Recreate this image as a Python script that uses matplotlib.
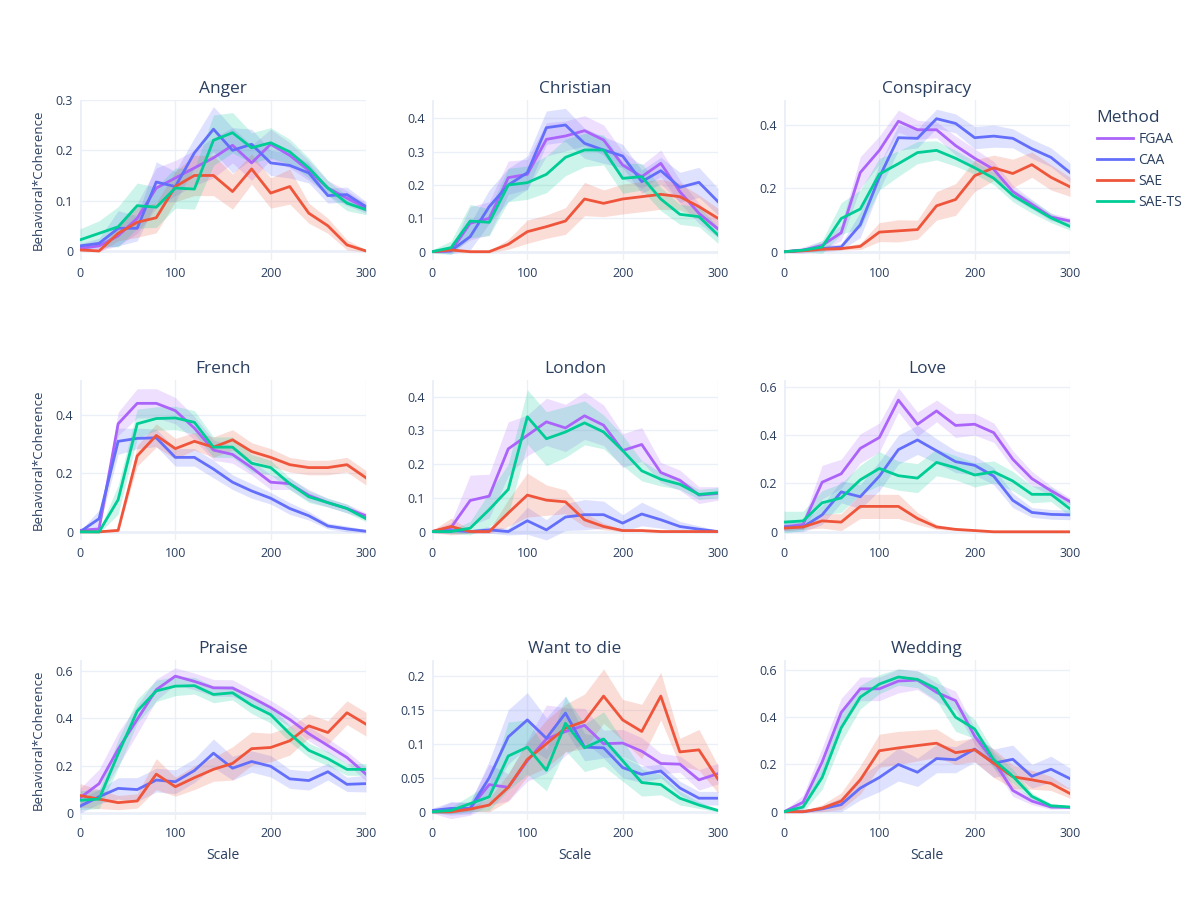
import matplotlib
matplotlib.use("Agg")
import matplotlib.pyplot as plt
from matplotlib.lines import Line2D
from matplotlib.ticker import FuncFormatter

plt.rcParams['font.family'] = ['Open Sans', 'DejaVu Sans']

scale = [0, 20, 40, 60, 80, 100, 120, 140, 160, 180, 200, 220, 240, 260, 280, 300]
methods = ["FGAA", "CAA", "SAE", "SAE-TS"]
colors = {"FGAA": "#AB63FA", "CAA": "#636EFA", "SAE": "#EF553B", "SAE-TS": "#00CC96"}

anger_mean = {
    "FGAA": [0.005, 0.01, 0.03, 0.065, 0.125, 0.145, 0.165, 0.185, 0.21, 0.175, 0.212, 0.19, 0.16, 0.125, 0.105, 0.085],
    "CAA": [0.01, 0.015, 0.045, 0.045, 0.137, 0.128, 0.195, 0.242, 0.2, 0.212, 0.175, 0.17, 0.155, 0.11, 0.112, 0.088],
    "SAE": [0.002, 0.0, 0.035, 0.057, 0.066, 0.128, 0.15, 0.15, 0.118, 0.163, 0.115, 0.128, 0.075, 0.05, 0.012, 0.0],
    "SAE-TS": [0.022, 0.035, 0.048, 0.09, 0.087, 0.125, 0.123, 0.22, 0.235, 0.205, 0.215, 0.197, 0.165, 0.125, 0.095, 0.082],
}
anger_err = {
    "FGAA": [0.005, 0.01, 0.02, 0.03, 0.04, 0.035, 0.035, 0.04, 0.035, 0.035, 0.03, 0.025, 0.02, 0.015, 0.015, 0.01],
    "CAA": [0.005, 0.01, 0.035, 0.025, 0.04, 0.03, 0.03, 0.045, 0.045, 0.03, 0.025, 0.025, 0.02, 0.015, 0.015, 0.01],
    "SAE": [0.002, 0.002, 0.015, 0.03, 0.03, 0.03, 0.04, 0.04, 0.035, 0.03, 0.03, 0.035, 0.02, 0.015, 0.01, 0.002],
    "SAE-TS": [0.022, 0.025, 0.04, 0.045, 0.04, 0.04, 0.04, 0.05, 0.04, 0.03, 0.03, 0.025, 0.02, 0.015, 0.015, 0.01],
}

christian_mean = {
    "FGAA": [0.0, 0.002, 0.085, 0.1, 0.222, 0.232, 0.337, 0.347, 0.363, 0.335, 0.26, 0.225, 0.265, 0.18, 0.115, 0.068],
    "CAA": [0.0, 0.003, 0.045, 0.135, 0.2, 0.237, 0.372, 0.38, 0.325, 0.305, 0.287, 0.21, 0.243, 0.193, 0.208, 0.15],
    "SAE": [0.0, 0.005, 0.0, 0.0, 0.022, 0.06, 0.075, 0.092, 0.158, 0.145, 0.158, 0.165, 0.172, 0.165, 0.135, 0.1],
    "SAE-TS": [0.0, 0.012, 0.092, 0.088, 0.2, 0.207, 0.232, 0.283, 0.305, 0.305, 0.22, 0.225, 0.158, 0.112, 0.105, 0.05],
}
christian_err = {
    "FGAA": [0.002, 0.005, 0.05, 0.05, 0.05, 0.045, 0.05, 0.045, 0.045, 0.045, 0.04, 0.035, 0.04, 0.035, 0.03, 0.025],
    "CAA": [0.002, 0.01, 0.04, 0.05, 0.05, 0.05, 0.05, 0.05, 0.045, 0.04, 0.035, 0.035, 0.04, 0.045, 0.045, 0.04],
    "SAE": [0.002, 0.005, 0.003, 0.003, 0.015, 0.035, 0.035, 0.04, 0.05, 0.04, 0.045, 0.045, 0.045, 0.04, 0.035, 0.03],
    "SAE-TS": [0.005, 0.02, 0.05, 0.04, 0.05, 0.05, 0.055, 0.055, 0.05, 0.045, 0.045, 0.04, 0.035, 0.03, 0.03, 0.025],
}

conspiracy_mean = {
    "FGAA": [0.0, 0.005, 0.02, 0.06, 0.25, 0.32, 0.412, 0.385, 0.385, 0.335, 0.295, 0.26, 0.19, 0.15, 0.11, 0.097],
    "CAA": [0.0, 0.005, 0.01, 0.015, 0.085, 0.235, 0.36, 0.358, 0.42, 0.405, 0.36, 0.365, 0.358, 0.325, 0.298, 0.25],
    "SAE": [0.0, 0.003, 0.008, 0.01, 0.017, 0.062, 0.066, 0.07, 0.145, 0.165, 0.24, 0.265, 0.247, 0.275, 0.235, 0.205],
    "SAE-TS": [0.0, 0.005, 0.015, 0.105, 0.135, 0.245, 0.278, 0.313, 0.32, 0.295, 0.265, 0.232, 0.178, 0.142, 0.107, 0.08],
}
conspiracy_err = {
    "FGAA": [0.003, 0.01, 0.015, 0.025, 0.05, 0.045, 0.035, 0.03, 0.025, 0.03, 0.03, 0.025, 0.02, 0.015, 0.012, 0.01],
    "CAA": [0.002, 0.005, 0.01, 0.01, 0.04, 0.04, 0.04, 0.03, 0.03, 0.03, 0.035, 0.035, 0.03, 0.03, 0.03, 0.03],
    "SAE": [0.002, 0.003, 0.005, 0.005, 0.01, 0.03, 0.035, 0.03, 0.045, 0.05, 0.05, 0.04, 0.045, 0.04, 0.04, 0.03],
    "SAE-TS": [0.003, 0.005, 0.02, 0.05, 0.06, 0.05, 0.04, 0.035, 0.03, 0.025, 0.02, 0.02, 0.02, 0.02, 0.015, 0.012],
}

french_mean = {
    "FGAA": [0.005, 0.01, 0.37, 0.44, 0.44, 0.415, 0.355, 0.28, 0.265, 0.22, 0.17, 0.165, 0.125, 0.1, 0.08, 0.055],
    "CAA": [0.0, 0.045, 0.31, 0.32, 0.322, 0.255, 0.255, 0.215, 0.17, 0.14, 0.115, 0.08, 0.055, 0.02, 0.01, 0.002],
    "SAE": [0.0, 0.0, 0.005, 0.26, 0.33, 0.285, 0.31, 0.29, 0.315, 0.275, 0.255, 0.23, 0.22, 0.22, 0.23, 0.185],
    "SAE-TS": [0.0, 0.0, 0.11, 0.37, 0.388, 0.39, 0.375, 0.29, 0.29, 0.235, 0.22, 0.165, 0.12, 0.1, 0.08, 0.045],
}
french_err = {
    "FGAA": [0.005, 0.005, 0.04, 0.05, 0.05, 0.045, 0.04, 0.035, 0.03, 0.025, 0.025, 0.02, 0.02, 0.015, 0.015, 0.01],
    "CAA": [0.003, 0.03, 0.045, 0.035, 0.03, 0.03, 0.03, 0.03, 0.025, 0.025, 0.02, 0.02, 0.015, 0.01, 0.01, 0.005],
    "SAE": [0.002, 0.002, 0.005, 0.035, 0.04, 0.035, 0.03, 0.035, 0.035, 0.03, 0.03, 0.025, 0.025, 0.025, 0.025, 0.025],
    "SAE-TS": [0.003, 0.005, 0.05, 0.05, 0.04, 0.04, 0.04, 0.035, 0.035, 0.03, 0.025, 0.02, 0.02, 0.015, 0.015, 0.01],
}

london_mean = {
    "FGAA": [0.0, 0.012, 0.092, 0.105, 0.245, 0.285, 0.325, 0.307, 0.343, 0.315, 0.24, 0.258, 0.175, 0.152, 0.108, 0.113],
    "CAA": [0.0, 0.003, 0.0, 0.005, 0.0, 0.032, 0.005, 0.043, 0.05, 0.05, 0.025, 0.052, 0.035, 0.015, 0.007, 0.0],
    "SAE": [0.0, 0.015, 0.0, 0.0, 0.055, 0.108, 0.093, 0.088, 0.035, 0.015, 0.003, 0.003, 0.0, 0.0, 0.0, 0.0],
    "SAE-TS": [0.0, 0.0, 0.01, 0.065, 0.125, 0.34, 0.275, 0.295, 0.322, 0.295, 0.24, 0.18, 0.155, 0.14, 0.11, 0.115],
}
london_err = {
    "FGAA": [0.005, 0.015, 0.075, 0.065, 0.08, 0.06, 0.07, 0.07, 0.07, 0.06, 0.05, 0.05, 0.03, 0.03, 0.025, 0.02],
    "CAA": [0.002, 0.01, 0.005, 0.01, 0.01, 0.04, 0.03, 0.04, 0.045, 0.04, 0.025, 0.035, 0.025, 0.015, 0.01, 0.003],
    "SAE": [0.003, 0.025, 0.005, 0.005, 0.04, 0.065, 0.045, 0.035, 0.02, 0.01, 0.003, 0.003, 0.002, 0.002, 0.002, 0.002],
    "SAE-TS": [0.003, 0.005, 0.02, 0.05, 0.075, 0.08, 0.08, 0.075, 0.065, 0.05, 0.045, 0.03, 0.02, 0.015, 0.015, 0.015],
}

love_mean = {
    "FGAA": [0.02, 0.03, 0.205, 0.24, 0.345, 0.39, 0.545, 0.445, 0.5, 0.44, 0.445, 0.41, 0.3, 0.22, 0.17, 0.125],
    "CAA": [0.02, 0.02, 0.07, 0.165, 0.145, 0.23, 0.34, 0.38, 0.335, 0.29, 0.275, 0.23, 0.13, 0.08, 0.072, 0.07],
    "SAE": [0.015, 0.02, 0.045, 0.04, 0.105, 0.105, 0.105, 0.055, 0.02, 0.01, 0.005, 0.0, 0.0, 0.0, 0.0, 0.0],
    "SAE-TS": [0.04, 0.045, 0.12, 0.14, 0.215, 0.262, 0.232, 0.222, 0.287, 0.265, 0.235, 0.248, 0.21, 0.155, 0.155, 0.095],
}
love_err = {
    "FGAA": [0.015, 0.02, 0.07, 0.06, 0.06, 0.06, 0.05, 0.05, 0.045, 0.05, 0.045, 0.04, 0.035, 0.03, 0.02, 0.015],
    "CAA": [0.02, 0.02, 0.04, 0.045, 0.05, 0.06, 0.06, 0.06, 0.05, 0.045, 0.04, 0.035, 0.03, 0.02, 0.02, 0.02],
    "SAE": [0.01, 0.01, 0.03, 0.035, 0.05, 0.05, 0.05, 0.025, 0.01, 0.005, 0.003, 0.002, 0.002, 0.002, 0.002, 0.002],
    "SAE-TS": [0.045, 0.04, 0.05, 0.06, 0.06, 0.07, 0.06, 0.06, 0.055, 0.05, 0.05, 0.045, 0.04, 0.035, 0.03, 0.03],
}

praise_mean = {
    "FGAA": [0.065, 0.125, 0.27, 0.395, 0.52, 0.577, 0.555, 0.528, 0.527, 0.488, 0.445, 0.395, 0.335, 0.285, 0.235, 0.165],
    "CAA": [0.03, 0.07, 0.105, 0.1, 0.14, 0.133, 0.18, 0.253, 0.19, 0.218, 0.198, 0.145, 0.138, 0.175, 0.122, 0.125],
    "SAE": [0.075, 0.06, 0.045, 0.052, 0.165, 0.112, 0.15, 0.185, 0.21, 0.272, 0.277, 0.305, 0.368, 0.34, 0.423, 0.375],
    "SAE-TS": [0.055, 0.06, 0.25, 0.43, 0.515, 0.535, 0.537, 0.5, 0.507, 0.455, 0.415, 0.335, 0.265, 0.23, 0.185, 0.185],
}
praise_err = {
    "FGAA": [0.04, 0.06, 0.07, 0.06, 0.045, 0.035, 0.035, 0.035, 0.035, 0.03, 0.03, 0.03, 0.03, 0.03, 0.025, 0.03],
    "CAA": [0.03, 0.03, 0.045, 0.05, 0.05, 0.05, 0.05, 0.06, 0.05, 0.045, 0.045, 0.04, 0.04, 0.035, 0.03, 0.035],
    "SAE": [0.05, 0.04, 0.03, 0.03, 0.065, 0.04, 0.05, 0.05, 0.07, 0.07, 0.06, 0.06, 0.05, 0.05, 0.05, 0.05],
    "SAE-TS": [0.04, 0.04, 0.06, 0.05, 0.045, 0.04, 0.035, 0.035, 0.03, 0.035, 0.035, 0.035, 0.03, 0.03, 0.025, 0.025],
}

die_mean = {
    "FGAA": [0.0, 0.002, 0.005, 0.04, 0.036, 0.075, 0.107, 0.118, 0.127, 0.1, 0.101, 0.089, 0.071, 0.07, 0.047, 0.056],
    "CAA": [0.002, 0.005, 0.005, 0.05, 0.11, 0.135, 0.108, 0.145, 0.095, 0.094, 0.065, 0.055, 0.06, 0.035, 0.02, 0.02],
    "SAE": [0.0, 0.0, 0.004, 0.01, 0.036, 0.077, 0.1, 0.123, 0.133, 0.17, 0.135, 0.118, 0.17, 0.088, 0.091, 0.048],
    "SAE-TS": [0.0, 0.002, 0.012, 0.022, 0.082, 0.095, 0.061, 0.13, 0.094, 0.107, 0.075, 0.043, 0.04, 0.02, 0.01, 0.002],
}
die_err = {
    "FGAA": [0.002, 0.012, 0.01, 0.03, 0.02, 0.03, 0.05, 0.035, 0.025, 0.02, 0.02, 0.02, 0.015, 0.012, 0.015, 0.015],
    "CAA": [0.003, 0.01, 0.008, 0.025, 0.04, 0.04, 0.03, 0.025, 0.02, 0.015, 0.015, 0.012, 0.01, 0.01, 0.01, 0.01],
    "SAE": [0.002, 0.002, 0.003, 0.01, 0.02, 0.025, 0.035, 0.035, 0.04, 0.04, 0.03, 0.04, 0.035, 0.02, 0.03, 0.02],
    "SAE-TS": [0.002, 0.005, 0.012, 0.02, 0.05, 0.04, 0.03, 0.04, 0.035, 0.04, 0.03, 0.02, 0.015, 0.01, 0.005, 0.002],
}

wedding_mean = {
    "FGAA": [0.0, 0.04, 0.21, 0.42, 0.52, 0.52, 0.553, 0.557, 0.505, 0.47, 0.32, 0.215, 0.09, 0.045, 0.02, 0.018],
    "CAA": [0.0, 0.0, 0.012, 0.03, 0.1, 0.145, 0.2, 0.167, 0.225, 0.22, 0.265, 0.205, 0.222, 0.15, 0.18, 0.14],
    "SAE": [0.0, 0.0, 0.015, 0.045, 0.135, 0.258, 0.27, 0.28, 0.29, 0.25, 0.262, 0.205, 0.148, 0.135, 0.12, 0.077],
    "SAE-TS": [0.0, 0.02, 0.145, 0.355, 0.485, 0.54, 0.57, 0.56, 0.52, 0.4, 0.35, 0.22, 0.15, 0.065, 0.025, 0.02],
}
wedding_err = {
    "FGAA": [0.003, 0.03, 0.06, 0.06, 0.05, 0.05, 0.05, 0.04, 0.04, 0.04, 0.035, 0.03, 0.025, 0.015, 0.01, 0.005],
    "CAA": [0.002, 0.003, 0.012, 0.03, 0.05, 0.06, 0.07, 0.06, 0.06, 0.055, 0.055, 0.06, 0.06, 0.05, 0.055, 0.045],
    "SAE": [0.002, 0.003, 0.015, 0.035, 0.06, 0.07, 0.07, 0.065, 0.06, 0.05, 0.05, 0.06, 0.05, 0.04, 0.03, 0.02],
    "SAE-TS": [0.003, 0.02, 0.05, 0.06, 0.05, 0.04, 0.035, 0.035, 0.05, 0.06, 0.04, 0.035, 0.03, 0.015, 0.01, 0.005],
}

titles = ["Anger", "Christian", "Conspiracy", "French", "London", "Love", "Praise", "Want to die", "Wedding"]
means = [anger_mean, christian_mean, conspiracy_mean, french_mean, london_mean, love_mean,
         praise_mean, die_mean, wedding_mean]
errs = [anger_err, christian_err, conspiracy_err, french_err, london_err, love_err,
        praise_err, die_err, wedding_err]
ylims = [(-0.018, 0.30), (-0.025, 0.455), (-0.026, 0.479), (-0.028, 0.52), (-0.025, 0.449),
         (-0.034, 0.628), (-0.028, 0.645), (-0.012, 0.223), (-0.035, 0.642)]
yticks = [[0, 0.1, 0.2, 0.3], [0, 0.1, 0.2, 0.3, 0.4], [0, 0.2, 0.4], [0, 0.2, 0.4],
          [0, 0.1, 0.2, 0.3, 0.4], [0, 0.2, 0.4, 0.6], [0, 0.2, 0.4, 0.6],
          [0, 0.05, 0.1, 0.15, 0.2], [0, 0.2, 0.4, 0.6]]

text_col = "#2a3f5f"
grid_col = "#EBF0F8"
W, H = 1200, 900
fig = plt.figure(figsize=(12, 9), dpi=100)

lefts = [80, 432, 784]
tops = [100, 380, 660]
aw, ah = 286, 160

fmt = FuncFormatter(lambda v, p: "0" if abs(v) < 1e-9 else "{:g}".format(round(v, 4)))

for k in range(9):
    r, c = divmod(k, 3)
    ax = fig.add_axes([lefts[c] / W, 1 - (tops[r] + ah) / H, aw / W, ah / H])
    for m in methods:
        mu = means[k][m]
        e = errs[k][m]
        lo = [a - b for a, b in zip(mu, e)]
        hi = [a + b for a, b in zip(mu, e)]
        ax.fill_between(scale, lo, hi, color=colors[m], alpha=0.2, linewidth=0)
        ax.plot(scale, mu, color=colors[m], linewidth=2)
    ax.set_xlim(0, 300)
    ax.set_ylim(*ylims[k])
    ax.set_xticks([0, 100, 200, 300])
    ax.set_yticks(yticks[k])
    ax.yaxis.set_major_formatter(fmt)
    ax.grid(True, color=grid_col, linewidth=1)
    ax.axhline(0, color=grid_col, linewidth=2, zorder=0)
    ax.axvline(0, color=grid_col, linewidth=2, zorder=0)
    ax.set_axisbelow(True)
    for s in ax.spines.values():
        s.set_visible(False)
    ax.tick_params(length=0, labelsize=9, labelcolor=text_col, pad=5)
    ax.set_title(titles[k], fontsize=12.5, color=text_col, pad=5)
    if c == 0:
        ax.set_ylabel("Behavioral*Coherence", fontsize=9.5, color=text_col, labelpad=8)
    if r == 2:
        ax.set_xlabel("Scale", fontsize=10, color=text_col, labelpad=6)

handles = [Line2D([], [], color=colors[m], linewidth=2) for m in methods]
leg = fig.legend(handles, methods, loc="upper left", bbox_to_anchor=(1084 / W, 1 - 98 / H),
                 frameon=False, title="Method", fontsize=10, title_fontsize=12.5,
                 handlelength=2.6, labelspacing=0.42, handletextpad=0.4, alignment="left")
for t in leg.get_texts():
    t.set_color(text_col)
leg.get_title().set_color(text_col)

fig.savefig("out.png", dpi=100, facecolor="white")
